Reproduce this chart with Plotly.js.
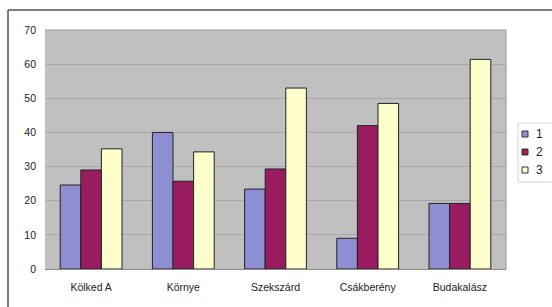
<!DOCTYPE html>
<html>
<head>
<meta charset="utf-8">
<script src="https://cdn.plot.ly/plotly-3.0.1.min.js"></script>
<style>html,body{margin:0;padding:0;background:#fff;}#chart{width:552px;height:307px;}</style>
</head>
<body>
<div id="chart"></div>
<script>
var categories = ["Kölked A", "Környe", "Szekszárd", "Csákberény", "Budakalász"];
var seriesNames = ["1", "2", "3"];
var series1 = [24.6, 40, 23.4, 9, 19.2];
var series2 = [29, 25.7, 29.3, 42, 19.2];
var series3 = [35.2, 34.3, 53, 48.5, 61.4];
var yTicks = [0, 10, 20, 30, 40, 50, 60, 70];

var colors = ["#8e8ed2", "#9a1c60", "#ffffcc"];
var vals = [series1, series2, series3];
var traces = vals.map(function (v, i) {
  return {
    type: "bar",
    name: seriesNames[i],
    x: categories,
    y: v,
    showlegend: false,
    marker: { color: colors[i], line: { color: "#222", width: 1 } }
  };
});

// plot area in pixels: x 45..506, y 30..269
function px(x) { return (x - 45) / 461; }
function py(y) { return (269 - y) / 239; }

var shapes = [
  { type: "line", xref: "paper", yref: "paper", x0: px(8), x1: px(600), y0: py(10), y1: py(10), line: { color: "#555", width: 1.5 } },
  { type: "line", xref: "paper", yref: "paper", x0: px(8), x1: px(8), y0: py(10), y1: py(320), line: { color: "#555", width: 1.5 } },
  { type: "line", xref: "paper", yref: "paper", x0: 0, x1: 1, y0: 1, y1: 1, line: { color: "#999", width: 1 } },
  { type: "line", xref: "paper", yref: "paper", x0: 1, x1: 1, y0: 0, y1: 1, line: { color: "#999", width: 1 } },
  { type: "rect", xref: "paper", yref: "paper", x0: px(518), x1: px(570), y0: py(123), y1: py(182), line: { color: "#d6d6d6", width: 1 }, fillcolor: "#ffffff" }
];
var annotations = [];
var legendY = [134, 152, 170];
seriesNames.forEach(function (n, i) {
  shapes.push({ type: "rect", xref: "paper", yref: "paper", x0: px(522), x1: px(528), y0: py(legendY[i] - 3), y1: py(legendY[i] + 3), line: { color: "#333", width: 1 }, fillcolor: colors[i] });
  annotations.push({ xref: "paper", yref: "paper", x: px(534), y: py(legendY[i]), xanchor: "left", yanchor: "middle", text: n, showarrow: false, font: { size: 12, color: "#222" } });
});

var layout = {
  width: 552,
  height: 307,
  margin: { l: 45, r: 46, t: 30, b: 38, autoexpand: false },
  paper_bgcolor: "#ffffff",
  plot_bgcolor: "#c0c0c0",
  barmode: "group",
  bargap: 0.33,
  bargroupgap: 0,
  font: { family: "Liberation Sans, Arial, sans-serif", size: 10, color: "#222" },
  xaxis: {
    type: "category",
    showline: true,
    linecolor: "#888",
    linewidth: 1,
    ticks: "",
    ticklabelstandoff: 8,
    tickfont: { size: 10.5 },
    fixedrange: true
  },
  yaxis: {
    range: [0, 70],
    tickvals: yTicks,
    ticktext: yTicks.map(String),
    showgrid: true,
    gridcolor: "#a8a8a8",
    gridwidth: 1,
    zeroline: false,
    showline: false,
    ticks: "",
    ticklabelstandoff: 8,
    tickfont: { size: 10.5 },
    fixedrange: true
  },
  showlegend: false,
  shapes: shapes,
  annotations: annotations
};

Plotly.newPlot("chart", traces, layout, { displayModeBar: false, staticPlot: true });
</script>
</body>
</html>
